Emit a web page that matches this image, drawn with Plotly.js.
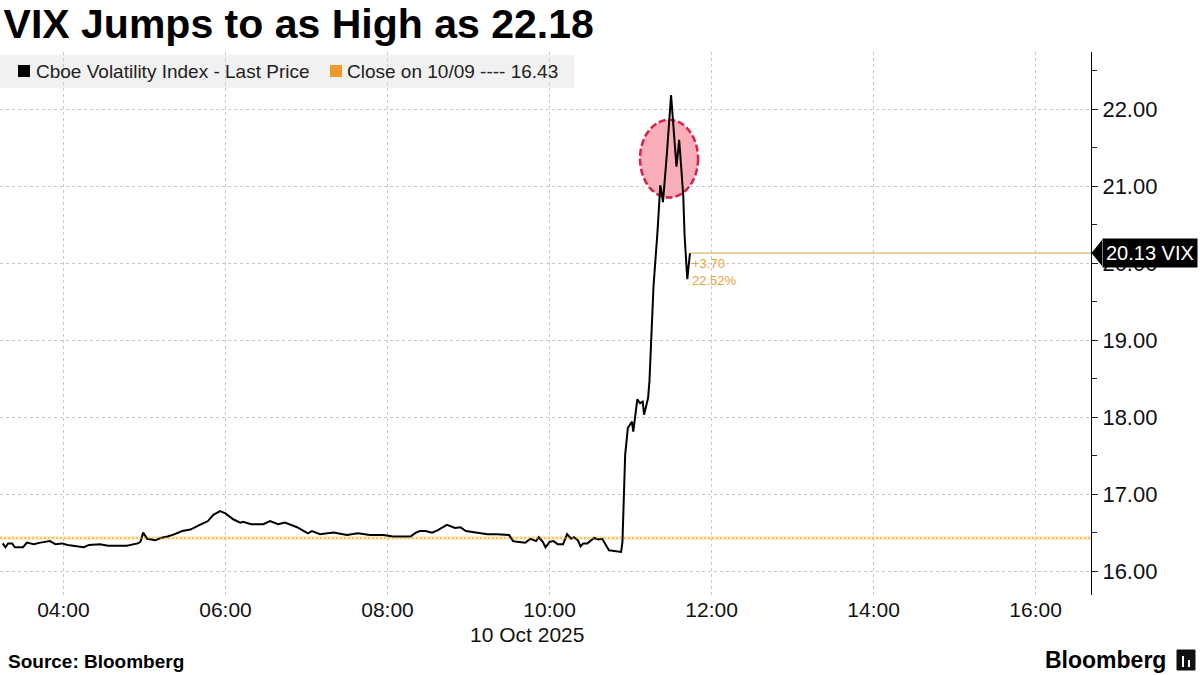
<!DOCTYPE html>
<html>
<head>
<meta charset="utf-8">
<script src="https://cdn.plot.ly/plotly-3.0.1.min.js"></script>
<style>
  html, body { margin: 0; padding: 0; background: #fff; }
  #chart { width: 1200px; height: 675px; }
</style>
</head>
<body>
<div id="chart"></div>
<script>
// ---- Data (VIX intraday, 10 Oct 2025) ----
const tradeDate = "2025-10-10";
const times = [
  "03:15","03:17","03:19","03:22","03:24","03:30","03:33","03:38","03:43","03:50",
  "03:54","03:59","04:03","04:15","04:19","04:27","04:33","04:47","04:55","04:57",
  "04:59","05:02","05:08","05:12","05:17","05:21","05:28","05:34","05:41","05:47",
  "05:51","05:56","06:00","06:06","06:11","06:13","06:19","06:28","06:33","06:39",
  "06:44","06:53","07:01","07:04","07:10","07:20","07:30","07:38","07:47","07:57",
  "08:04","08:17","08:21","08:24","08:28","08:33","08:37","08:44","08:50","08:54",
  "08:58","09:07","09:14","09:21","09:30","09:33","09:36","09:42","09:46","09:50",
  "09:52","09:55","09:57","10:00","10:03","10:06","10:10","10:13","10:16","10:18",
  "10:21","10:23","10:25","10:28","10:33","10:36","10:39","10:44","10:49","10:53",
  "10:54","10:55","10:56","10:58","11:01","11:02","11:05","11:07","11:09","11:10",
  "11:13","11:14","11:17","11:20","11:22","11:23","11:24","11:27","11:30","11:34",
  "11:36","11:39","11:40","11:42","11:44"
];
const vixValues = [
  16.36,16.31,16.36,16.36,16.31,16.31,16.37,16.35,16.37,16.39,
  16.35,16.36,16.34,16.31,16.34,16.35,16.33,16.33,16.36,16.38,
  16.50,16.42,16.40,16.43,16.45,16.47,16.52,16.54,16.60,16.65,
  16.73,16.78,16.75,16.67,16.63,16.64,16.61,16.61,16.65,16.61,
  16.63,16.57,16.49,16.52,16.48,16.50,16.47,16.49,16.47,16.47,
  16.45,16.45,16.50,16.52,16.52,16.50,16.53,16.60,16.56,16.57,
  16.52,16.50,16.48,16.48,16.47,16.39,16.38,16.37,16.42,16.39,
  16.44,16.38,16.31,16.38,16.39,16.35,16.35,16.48,16.42,16.44,
  16.40,16.32,16.36,16.36,16.43,16.41,16.42,16.27,16.26,16.25,
  16.38,17.03,17.51,17.86,17.94,17.81,18.23,18.18,18.20,18.03,
  18.25,18.47,19.70,20.42,21.01,20.92,20.79,21.44,22.18,21.25,
  21.60,20.88,20.36,19.79,20.13
];
const prevCloseLabel = "10/09";
const prevClose = 16.43;
const seriesName = "Cboe Volatility Index - Last Price";
const xTickLabels = ["04:00","06:00","08:00","10:00","12:00","14:00","16:00"];
const yTickValues = [16, 17, 18, 19, 20, 21, 22];
const highlightWindow = ["11:07", "11:50"];
const highlightRange = [20.85, 21.86];

// ---- Build ----
const x = times.map(t => `${tradeDate} ${t}`);
const lastX = x[x.length - 1];
const lastV = vixValues[vixValues.length - 1];
const chg = lastV - prevClose;
const pct = chg / prevClose * 100;

const FONT = "Liberation Sans, Arial, sans-serif";
const ORANGE = "#ee9a2a";

const trace = {
  x: x, y: vixValues, type: "scatter", mode: "lines",
  line: { color: "#000", width: 2 }, name: seriesName, hoverinfo: "skip"
};

const plotTopPx = 52, plotBotPx = 595, plotH = plotBotPx - plotTopPx;
const plotW = 1091;
const py = px => (plotBotPx - px) / plotH;   // pixel row -> paper y
const pxX = px => px / plotW;                // pixel col -> paper x

const yMin = 15.69, yMax = 22.74;
const ppu = plotH / (yMax - yMin);

const layout = {
  width: 1200, height: 675,
  margin: { l: 0, r: 1200 - plotW, t: plotTopPx, b: 675 - plotBotPx, pad: 0 },
  paper_bgcolor: "#fff", plot_bgcolor: "#fff",
  showlegend: false,
  font: { family: FONT, color: "#111" },
  title: {
    text: "<b>VIX Jumps to as High as 22.18</b>",
    font: { family: FONT, size: 41, color: "#000" },
    x: 0.003, xref: "container", xanchor: "left",
    y: 1 - 24 / 675, yref: "container", yanchor: "middle"
  },
  xaxis: {
    type: "date",
    range: [`${tradeDate} 03:13`, `${tradeDate} 16:41`],
    tickmode: "array",
    tickvals: xTickLabels.map(t => `${tradeDate} ${t}`),
    ticktext: xTickLabels,
    ticks: "", showline: false, zeroline: false,
    showgrid: true, gridcolor: "#c9c9c9", griddash: "3px,3px", gridwidth: 1,
    tickfont: { family: FONT, size: 21, color: "#111" },
    fixedrange: true
  },
  yaxis: {
    side: "right", range: [yMin, yMax],
    tickmode: "array", tickvals: yTickValues,
    ticktext: yTickValues.map(v => v.toFixed(2)),
    ticks: "outside", ticklen: 6, tickcolor: "#222", tickwidth: 1,
    minor: { dtick: 0.5, tick0: 16, ticks: "outside", ticklen: 5, tickcolor: "#222", showgrid: false },
    showline: true, linecolor: "#000", linewidth: 1,
    showgrid: true, gridcolor: "#c9c9c9", griddash: "3px,3px", gridwidth: 1,
    zeroline: false,
    tickfont: { family: FONT, size: 22, color: "#111" },
    fixedrange: true
  },
  shapes: [
    // legend background
    { type: "rect", xref: "paper", yref: "paper", x0: 0, x1: pxX(574), y0: py(88), y1: py(55),
      fillcolor: "#f1f1f1", line: { width: 0 }, layer: "below" },
    // previous close line
    { type: "line", xref: "paper", yref: "y", x0: 0, x1: 1, y0: prevClose, y1: prevClose,
      line: { color: "rgba(250,228,160,0.6)", width: 4 }, layer: "below" },
    { type: "line", xref: "paper", yref: "y", x0: 0, x1: 1, y0: prevClose, y1: prevClose,
      line: { color: "#e89420", width: 1.2, dash: "2px,2px" } },
    // highlight ellipse
    { type: "circle", xref: "x", yref: "y",
      x0: `${tradeDate} ${highlightWindow[0]}`, x1: `${tradeDate} ${highlightWindow[1]}`,
      y0: highlightRange[0], y1: highlightRange[1],
      fillcolor: "rgba(246,120,140,0.6)", line: { color: "#d6204a", width: 2.5, dash: "7px,3px" },
      layer: "below" },
    // last price line
    { type: "line", xref: "x", yref: "y", x0: lastX, y0: lastV,
      x1: `${tradeDate} 16:41`, y1: lastV, line: { color: "#d9a24a", width: 1 } },
    // last price tag arrow
    { type: "path", xref: "paper", yref: "y",
      path: `M 1.0005,${lastV} L ${pxX(1102)},${lastV + 13 / ppu} L ${pxX(1102)},${lastV - 13 / ppu} Z`,
      fillcolor: "#000", line: { width: 0 } },
    // legend swatches
    { type: "rect", xref: "paper", yref: "paper", x0: pxX(18), x1: pxX(30), y0: py(77), y1: py(65),
      fillcolor: "#000", line: { width: 0 } },
    { type: "rect", xref: "paper", yref: "paper", x0: pxX(330), x1: pxX(342), y0: py(77), y1: py(65),
      fillcolor: ORANGE, line: { width: 0 } },
    // Bloomberg logo mark
    { type: "rect", xref: "paper", yref: "paper", x0: pxX(1177), x1: pxX(1195), y0: py(670), y1: py(650),
      fillcolor: "#111", line: { color: "#111", width: 1 } },
    { type: "line", xref: "paper", yref: "paper", x0: pxX(1183), x1: pxX(1183), y0: py(667), y1: py(656),
      line: { color: "#fff", width: 2 } },
    { type: "line", xref: "paper", yref: "paper", x0: pxX(1189), x1: pxX(1189), y0: py(667), y1: py(660),
      line: { color: "#fff", width: 2 } }
  ],
  annotations: [
    { xref: "paper", yref: "paper", x: pxX(34), y: py(71.5), xanchor: "left", yanchor: "middle",
      showarrow: false, align: "left", text: seriesName,
      font: { family: FONT, size: 19, color: "#222" } },
    { xref: "paper", yref: "paper", x: pxX(345), y: py(71.5), xanchor: "left", yanchor: "middle",
      showarrow: false, align: "left",
      text: `Close on ${prevCloseLabel} ---- ${prevClose.toFixed(2)}`,
      font: { family: FONT, size: 19, color: "#222" } },
    { xref: "paper", yref: "y", x: pxX(1102), y: lastV, xanchor: "left", yanchor: "middle",
      showarrow: false, text: `${lastV.toFixed(2)} VIX`,
      bgcolor: "#000", borderpad: 3,
      font: { family: FONT, size: 20, color: "#fff" } },
    { xref: "x", yref: "y", x: lastX, y: lastV, xanchor: "left", yanchor: "top",
      xshift: 0, yshift: -1, showarrow: false, align: "left",
      text: `+${chg.toFixed(2)}<br>${pct.toFixed(2)}%`,
      font: { family: FONT, size: 13, color: "#e8a23a" } },
    { xref: "paper", yref: "paper", x: pxX(527), y: py(634), xanchor: "center", yanchor: "middle",
      showarrow: false, text: "10 Oct 2025",
      font: { family: FONT, size: 21, color: "#111" } },
    { xref: "paper", yref: "paper", x: pxX(6), y: py(661), xanchor: "left", yanchor: "middle",
      showarrow: false, text: "<b>Source: Bloomberg</b>",
      font: { family: FONT, size: 19, color: "#000" } },
    { xref: "paper", yref: "paper", x: pxX(1168), y: py(660), xanchor: "right", yanchor: "middle",
      showarrow: false, text: "<b>Bloomberg</b>",
      font: { family: FONT, size: 23, color: "#000" } }
  ]
};

Plotly.newPlot("chart", [trace], layout, { displayModeBar: false, staticPlot: true });
</script>
</body>
</html>
